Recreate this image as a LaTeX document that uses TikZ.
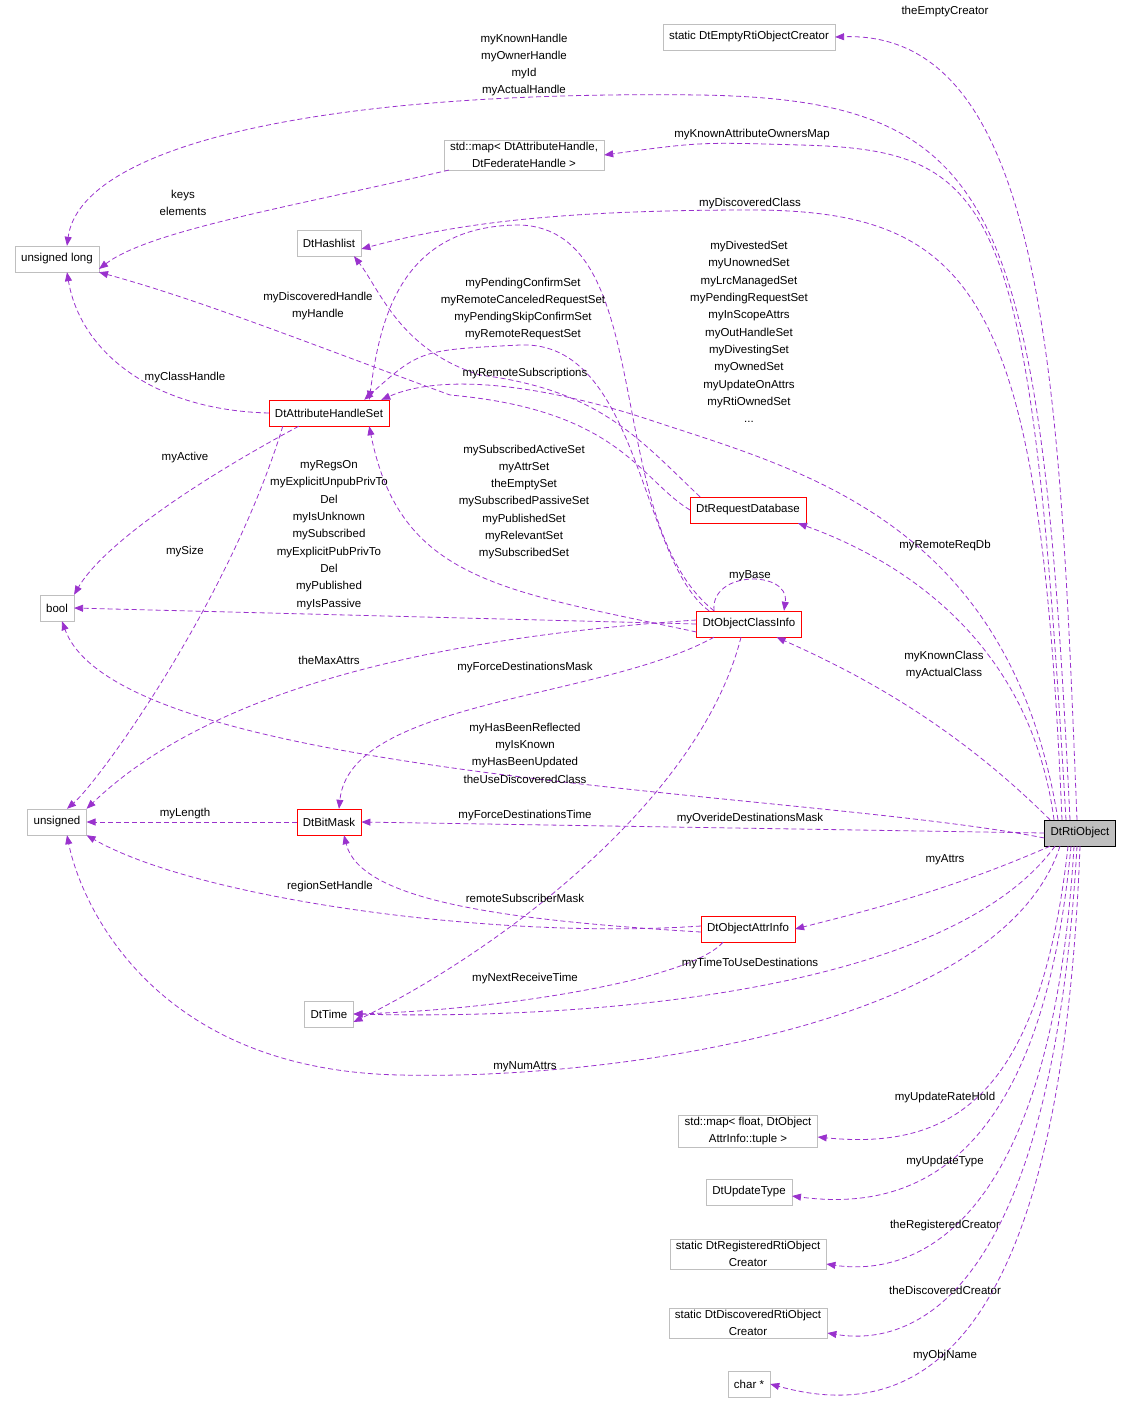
\documentclass[tikz,border=0pt]{standalone}
\usepackage{fontspec}
\setmainfont{Liberation Sans}
\usetikzlibrary{arrows.meta}
\definecolor{purp}{HTML}{9A32CD}
\definecolor{gbox}{HTML}{BFBFBF}
\begin{document}
\begin{tikzpicture}[x=1pt,y=-1pt,
  font=\fontsize{11.5}{17.3}\selectfont,
  box/.style={draw=gbox,fill=white,minimum height=26,inner xsep=6,inner ysep=2,align=center},
  rbox/.style={box,draw=red},
  dep/.style={draw=purp,dash pattern=on 5pt off 3pt,line width=0.8pt,-{Triangle[width=7pt,length=9pt,fill=purp]}},
  lab/.style={align=center,inner sep=0}]
\useasboundingbox (0,0) rectangle (1131,1414);
\node[box] (empty) at (749,37) {static DtEmptyRtiObjectCreator};
\node[box] (map) at (524,155) {std::map\textless{} DtAttributeHandle,\\DtFederateHandle \textgreater};
\node[box] (ul) at (57,259) {unsigned long};
\node[box] (hash) at (329,243) {DtHashlist};
\node[rbox] (ahs) at (329,413) {DtAttributeHandleSet};
\node[rbox] (req) at (748,510) {DtRequestDatabase};
\node[box] (bool) at (57,608) {bool};
\node[rbox] (oci) at (749,624) {DtObjectClassInfo};
\node[box] (uns) at (57,822) {unsigned};
\node[rbox] (bm) at (329,822) {DtBitMask};
\node[draw=black,fill=gbox,minimum height=26,inner xsep=6] (rti) at (1080,833) {DtRtiObject};
\node[rbox] (oai) at (748,929) {DtObjectAttrInfo};
\node[box] (time) at (329,1014) {DtTime};
\node[box] (mapf) at (748,1131) {std::map\textless{} float, DtObject\\AttrInfo::tuple \textgreater};
\node[box] (upd) at (749,1192) {DtUpdateType};
\node[box] (reg) at (748,1254) {static DtRegisteredRtiObject\\Creator};
\node[box] (disc) at (748,1323) {static DtDiscoveredRtiObject\\Creator};
\node[box] (chr) at (749,1384) {char *};

% edges from DtRtiObject
\draw[dep] ([xshift=-3]rti.north) .. controls (1060,400) and (1050,30) .. (empty.east);
\draw[dep] ([xshift=-10]rti.north) .. controls (1040,200) and (1000,100) .. (700,95) .. controls (300,90) and (80,150) .. ([xshift=10]ul.north);
\draw[dep] ([xshift=-14]rti.north) .. controls (1030,200) and (1000,150) .. (800,145) .. controls (700,142) .. (map.east);
\draw[dep] ([xshift=-18]rti.north) .. controls (1040,300) and (980,210) .. (750,210) .. controls (550,210) and (450,225) .. ([yshift=-6]hash.east);
\draw[dep] ([xshift=-22]rti.north) .. controls (1010,520) and (800,470) .. (650,420) .. controls (560,390) and (450,370) .. ([xshift=-8]ahs.north east);
\draw[dep] ([xshift=-26]rti.north) .. controls (1030,640) and (900,560) .. ([xshift=-8]req.south east);
\draw[dep] ([xshift=-30]rti.north) .. controls (950,720) and (850,670) .. ([xshift=-25]oci.south east);
\draw[dep] ([yshift=-5]rti.west) .. controls (800,790) and (120,780) .. ([xshift=5]bool.south);
\draw[dep] (rti.west) -- (bm.east);
\draw[dep] ([xshift=-30]rti.south) .. controls (950,890) and (870,910) .. (oai.east);
\draw[dep] ([xshift=-25]rti.south) .. controls (950,990) and (600,1020) .. (time.east);
\draw[dep] ([xshift=-20]rti.south) .. controls (1000,1030) and (600,1080) .. (400,1075) .. controls (150,1070) and (80,900) .. ([xshift=10]uns.south);
\draw[dep] ([xshift=-12]rti.south) .. controls (1040,1100) and (950,1150) .. ([yshift=-6]mapf.east);
\draw[dep] ([xshift=-9]rti.south) .. controls (1040,1180) and (900,1210) .. ([yshift=-4]upd.east);
\draw[dep] ([xshift=-6]rti.south) .. controls (1050,1250) and (900,1275) .. ([yshift=-10]reg.east);
\draw[dep] ([xshift=-3]rti.south) .. controls (1050,1320) and (900,1345) .. ([yshift=-10]disc.east);
\draw[dep] (rti.south) .. controls (1060,1380) and (900,1420) .. (chr.east);

% other edges
\draw[dep] ([xshift=5]map.south west) .. controls (300,205) and (150,230) .. ([yshift=-10]ul.east);
\draw[dep] (ahs.west) .. controls (150,410) and (80,350) .. ([xshift=10]ul.south);
\draw[dep] ([xshift=30]ahs.south west) .. controls (180,490) and (100,550) .. (bool.north east);
\draw[dep] ([xshift=14]ahs.south west) .. controls (230,600) and (100,780) .. ([xshift=10]uns.north);
\draw[dep] (req.west) .. controls (640,480) and (620,410) .. (450,395) .. controls (300,340) and (200,300) .. (ul.south east);
\draw[dep] ([xshift=10]req.north west) .. controls (640,440) and (600,390) .. (480,375) .. controls (400,350) and (380,290) .. ([xshift=25]hash.south);
\draw[dep] ([xshift=-40]oci.north) .. controls (640,560) and (640,340) .. (520,345) .. controls (420,350) .. ([xshift=-25]ahs.north east);
\draw[dep] ([xshift=-35]oci.north) .. controls (600,520) and (660,230) .. (520,225) .. controls (400,225) and (380,320) .. ([xshift=-20]ahs.north east);
\draw[dep] ([yshift=-8]oci.west) .. controls (500,590) and (400,580) .. ([xshift=-20]ahs.south east);
\draw[dep] (oci.west) -- (bool.east);
\draw[dep] ([yshift=4]oci.west) .. controls (400,640) and (200,700) .. (uns.north east);
\draw[dep] ([xshift=-35]oci.south) .. controls (600,700) and (350,700) .. ([xshift=10]bm.north);
\draw[dep] ([xshift=-35]oci.north) .. controls (710,570) and (790,570) .. ([xshift=35]oci.north) ;
\draw[dep] ([xshift=-8]oci.south) .. controls (700,800) and (500,950) .. ([yshift=-8]time.east);
\draw[dep] ([yshift=3]oai.west) .. controls (500,940) and (200,900) .. (uns.south east);
\draw[dep] ([yshift=-3]oai.west) .. controls (500,920) and (360,900) .. ([xshift=15]bm.south);
\draw[dep] ([xshift=-25]oai.south) .. controls (690,980) and (500,1010) .. (time.east);
\draw[dep] (bm.west) -- (uns.east);

% labels
\node[lab] at (945,12) {theEmptyCreator};
\node[lab] at (524,65) {myKnownHandle\\myOwnerHandle\\myId\\myActualHandle};
\node[lab] at (752,135) {myKnownAttributeOwnersMap};
\node[lab] at (183,203) {keys\\elements};
\node[lab] at (750,204) {myDiscoveredClass};
\node[lab] at (749,332) {myDivestedSet\\myUnownedSet\\myLrcManagedSet\\myPendingRequestSet\\myInScopeAttrs\\myOutHandleSet\\myDivestingSet\\myOwnedSet\\myUpdateOnAttrs\\myRtiOwnedSet\\...};
\node[lab] at (523,309) {myPendingConfirmSet\\myRemoteCanceledRequestSet\\myPendingSkipConfirmSet\\myRemoteRequestSet};
\node[lab] at (318,306) {myDiscoveredHandle\\myHandle};
\node[lab] at (525,374) {myRemoteSubscriptions};
\node[lab] at (185,378) {myClassHandle};
\node[lab] at (185,458) {myActive};
\node[lab] at (329,535) {myRegsOn\\myExplicitUnpubPrivTo\\Del\\myIsUnknown\\mySubscribed\\myExplicitPubPrivTo\\Del\\myPublished\\myIsPassive};
\node[lab] at (524,502) {mySubscribedActiveSet\\myAttrSet\\theEmptySet\\mySubscribedPassiveSet\\myPublishedSet\\myRelevantSet\\mySubscribedSet};
\node[lab] at (185,552) {mySize};
\node[lab] at (945,546) {myRemoteReqDb};
\node[lab] at (750,576) {myBase};
\node[lab] at (944,665) {myKnownClass\\myActualClass};
\node[lab] at (329,660) {theMaxAttrs};
\node[lab] at (525,668) {myForceDestinationsMask};
\node[lab] at (525,753) {myHasBeenReflected\\myIsKnown\\myHasBeenUpdated\\theUseDiscoveredClass};
\node[lab] at (185,814) {myLength};
\node[lab] at (525,816) {myForceDestinationsTime};
\node[lab] at (750,819) {myOverideDestinationsMask};
\node[lab] at (945,860) {myAttrs};
\node[lab] at (330,887) {regionSetHandle};
\node[lab] at (525,898) {remoteSubscriberMask};
\node[lab] at (750,964) {myTimeToUseDestinations};
\node[lab] at (525,979) {myNextReceiveTime};
\node[lab] at (525,1067) {myNumAttrs};
\node[lab] at (945,1098) {myUpdateRateHold};
\node[lab] at (945,1162) {myUpdateType};
\node[lab] at (945,1226) {theRegisteredCreator};
\node[lab] at (945,1290) {theDiscoveredCreator};
\node[lab] at (945,1356) {myObjName};
\end{tikzpicture}
\end{document}
